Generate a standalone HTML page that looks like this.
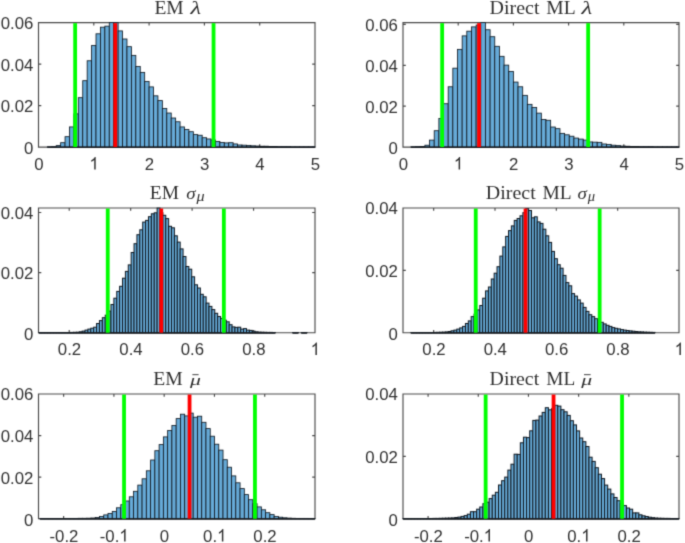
<!DOCTYPE html>
<html><head><meta charset="utf-8"><title>Histograms</title>
<style>html,body{margin:0;padding:0;background:#fff;}body{width:685px;height:543px;overflow:hidden;}svg{display:block;}</style>
</head><body>
<div style="will-change:transform;width:685px;height:543px">
<svg width="685" height="543" viewBox="0 0 685 543">
<defs><filter id="soft" x="0" y="0" width="685" height="543" filterUnits="userSpaceOnUse" color-interpolation-filters="sRGB"><feConvolveMatrix order="3" kernelMatrix="0.02250 0.10500 0.02250 0.10500 0.49000 0.10500 0.02250 0.10500 0.02250" divisor="1" edgeMode="duplicate" preserveAlpha="true"/></filter></defs>
<g filter="url(#soft)">
<rect x="-5" y="-5" width="695" height="553" fill="#fff"/>
<g>
<path d="M38.5 22.6H315V147.05H38.5ZM93.8 147.05v-2.8M93.8 22.6v2.8M149.1 147.05v-2.8M149.1 22.6v2.8M204.4 147.05v-2.8M204.4 22.6v2.8M259.7 147.05v-2.8M259.7 22.6v2.8M38.5 105.57h2.8M315 105.57h-2.8M38.5 64.08h2.8M315 64.08h-2.8" fill="none" stroke="#4a4a4a" stroke-width="1.15"/>
<g fill="#66aad7" stroke="#101820" stroke-width="0.82">
<rect x="47.35" y="146.84" width="4.42" height="0.21"/>
<rect x="51.77" y="146.64" width="4.42" height="0.41"/>
<rect x="56.2" y="145.6" width="4.42" height="1.45"/>
<rect x="60.62" y="142.69" width="4.42" height="4.36"/>
<rect x="65.04" y="136.68" width="4.42" height="10.37"/>
<rect x="69.47" y="126.93" width="4.42" height="20.12"/>
<rect x="73.89" y="113.86" width="4.42" height="33.19"/>
<rect x="78.32" y="97.68" width="4.42" height="49.37"/>
<rect x="82.74" y="80.68" width="4.42" height="66.37"/>
<rect x="87.16" y="60.76" width="4.42" height="86.29"/>
<rect x="91.59" y="45.42" width="4.42" height="101.63"/>
<rect x="96.01" y="33.8" width="4.42" height="113.25"/>
<rect x="100.44" y="27.16" width="4.42" height="119.89"/>
<rect x="104.86" y="26.13" width="4.42" height="120.92"/>
<rect x="109.28" y="22.6" width="4.42" height="124.45"/>
<rect x="113.71" y="22.6" width="4.42" height="124.45"/>
<rect x="118.13" y="30.9" width="4.42" height="116.15"/>
<rect x="122.56" y="38.99" width="4.42" height="108.06"/>
<rect x="126.98" y="46.66" width="4.42" height="100.39"/>
<rect x="131.4" y="55.37" width="4.42" height="91.68"/>
<rect x="135.83" y="66.57" width="4.42" height="80.48"/>
<rect x="140.25" y="72.38" width="4.42" height="74.67"/>
<rect x="144.68" y="81.51" width="4.42" height="65.54"/>
<rect x="149.1" y="86.9" width="4.42" height="60.15"/>
<rect x="153.52" y="95.82" width="4.42" height="51.23"/>
<rect x="157.95" y="100.59" width="4.42" height="46.46"/>
<rect x="162.37" y="108.47" width="4.42" height="38.58"/>
<rect x="166.8" y="113.03" width="4.42" height="34.02"/>
<rect x="171.22" y="118.01" width="4.42" height="29.04"/>
<rect x="175.64" y="121.75" width="4.42" height="25.3"/>
<rect x="180.07" y="126.93" width="4.42" height="20.12"/>
<rect x="184.49" y="129.42" width="4.42" height="17.63"/>
<rect x="188.92" y="131.7" width="4.42" height="15.35"/>
<rect x="193.34" y="134.61" width="4.42" height="12.45"/>
<rect x="197.76" y="135.23" width="4.42" height="11.82"/>
<rect x="202.19" y="137.72" width="4.42" height="9.33"/>
<rect x="206.61" y="138.96" width="4.42" height="8.09"/>
<rect x="211.04" y="140" width="4.42" height="7.05"/>
<rect x="215.46" y="141.45" width="4.42" height="5.6"/>
<rect x="219.88" y="142.49" width="4.42" height="4.56"/>
<rect x="224.31" y="142.9" width="4.42" height="4.15"/>
<rect x="228.73" y="142.69" width="4.42" height="4.36"/>
<rect x="233.16" y="143.94" width="4.42" height="3.11"/>
<rect x="237.58" y="144.98" width="4.42" height="2.07"/>
<rect x="242" y="145.18" width="4.42" height="1.87"/>
<rect x="246.43" y="145.39" width="4.42" height="1.66"/>
<rect x="250.85" y="145.81" width="4.42" height="1.24"/>
<rect x="255.28" y="146.01" width="4.42" height="1.04"/>
<rect x="259.7" y="146.22" width="4.42" height="0.83"/>
<rect x="264.12" y="146.22" width="4.42" height="0.83"/>
<rect x="268.55" y="146.43" width="4.42" height="0.62"/>
<rect x="272.97" y="146.43" width="4.42" height="0.62"/>
<rect x="277.4" y="146.64" width="4.42" height="0.41"/>
<rect x="281.82" y="146.64" width="4.42" height="0.41"/>
<rect x="286.24" y="146.64" width="4.42" height="0.41"/>
<rect x="290.67" y="146.84" width="4.42" height="0.21"/>
<rect x="295.09" y="146.84" width="4.42" height="0.21"/>
<rect x="299.52" y="146.84" width="4.42" height="0.21"/>
<rect x="303.94" y="146.84" width="4.42" height="0.21"/>
<rect x="308.36" y="146.84" width="4.42" height="0.21"/>
<rect x="312.79" y="146.84" width="2.21" height="0.21"/>
</g>
<path d="M47.35 147.25H315" stroke="#1a1f24" stroke-width="1.5" fill="none"/>
<rect x="73.25" y="23.15" width="3.8" height="123.9" fill="#00ff00"/>
<rect x="211.65" y="23.15" width="3.8" height="123.9" fill="#00ff00"/>
<rect x="113.35" y="23.15" width="3.8" height="123.9" fill="#ff0000"/>
<g font-family="'Liberation Sans', sans-serif" font-size="17.2" fill="#303030">
<text transform="translate(34.14 169.55) scale(0.975 1)">0</text>
<path transform="translate(89.44 169.55) scale(0.01677 -0.01720)" d="M373 0H285V560Q253 530 202 500T109 454V539Q185 575 242 626T322 725H373Z"/>
<text transform="translate(144.74 169.55) scale(0.975 1)">2</text>
<text transform="translate(200.04 169.55) scale(0.975 1)">3</text>
<text transform="translate(255.34 169.55) scale(0.975 1)">4</text>
<text transform="translate(310.64 169.55) scale(0.975 1)">5</text>
<text transform="translate(23.98 154.1) scale(0.975 1)">0</text>
<text transform="translate(0.67 112.02) scale(0.975 1)">0.02</text>
<text transform="translate(0.67 70.53) scale(0.975 1)">0.04</text>
<text transform="translate(0.67 29.05) scale(0.975 1)">0.06</text>
</g>
<g opacity="0.92"><text transform="translate(155.5 13.8) scale(1.0840 1)" x="-1.000" y="0" font-family="'Liberation Serif', serif" font-style="normal" font-size="18" fill="#1c1c1c">EM</text><text transform="translate(190.6 13.8) scale(1.3571 1)" x="-0.000" y="0" font-family="'Liberation Serif', serif" font-style="italic" font-size="18" fill="#1c1c1c">λ</text></g>
</g>
<g>
<path d="M403 22.6H679V147.05H403ZM458.2 147.05v-2.8M458.2 22.6v2.8M513.4 147.05v-2.8M513.4 22.6v2.8M568.6 147.05v-2.8M568.6 22.6v2.8M623.8 147.05v-2.8M623.8 22.6v2.8M403 106.18h2.8M679 106.18h-2.8M403 65.31h2.8M679 65.31h-2.8M403 24.44h2.8M679 24.44h-2.8" fill="none" stroke="#4a4a4a" stroke-width="1.15"/>
<g fill="#66aad7" stroke="#101820" stroke-width="0.82">
<rect x="410.93" y="146.85" width="4.66" height="0.2"/>
<rect x="415.59" y="146.64" width="4.66" height="0.41"/>
<rect x="420.24" y="146.44" width="4.66" height="0.61"/>
<rect x="424.9" y="145.21" width="4.66" height="1.84"/>
<rect x="429.56" y="140.1" width="4.66" height="6.95"/>
<rect x="434.21" y="130.7" width="4.66" height="16.35"/>
<rect x="438.87" y="118.44" width="4.66" height="28.61"/>
<rect x="443.53" y="103.73" width="4.66" height="43.32"/>
<rect x="448.19" y="86.77" width="4.66" height="60.28"/>
<rect x="452.84" y="68.17" width="4.66" height="78.88"/>
<rect x="457.5" y="49.37" width="4.66" height="97.68"/>
<rect x="462.16" y="35.88" width="4.66" height="111.17"/>
<rect x="466.81" y="31.18" width="4.66" height="115.87"/>
<rect x="471.47" y="26.89" width="4.66" height="120.16"/>
<rect x="476.13" y="25.05" width="4.66" height="122"/>
<rect x="480.78" y="22.6" width="4.66" height="124.45"/>
<rect x="485.44" y="29.75" width="4.66" height="117.3"/>
<rect x="490.1" y="36.7" width="4.66" height="110.35"/>
<rect x="494.75" y="46.3" width="4.66" height="100.75"/>
<rect x="499.41" y="56.32" width="4.66" height="90.73"/>
<rect x="504.07" y="65.11" width="4.66" height="81.94"/>
<rect x="508.73" y="71.44" width="4.66" height="75.61"/>
<rect x="513.38" y="82.07" width="4.66" height="64.98"/>
<rect x="518.04" y="86.77" width="4.66" height="60.28"/>
<rect x="522.7" y="95.35" width="4.66" height="51.7"/>
<rect x="527.35" y="104.34" width="4.66" height="42.71"/>
<rect x="532.01" y="107.41" width="4.66" height="39.64"/>
<rect x="536.67" y="113.13" width="4.66" height="33.92"/>
<rect x="541.32" y="119.46" width="4.66" height="27.59"/>
<rect x="545.98" y="120.28" width="4.66" height="26.77"/>
<rect x="550.64" y="127.02" width="4.66" height="20.03"/>
<rect x="555.3" y="128.66" width="4.66" height="18.39"/>
<rect x="559.95" y="133.36" width="4.66" height="13.69"/>
<rect x="564.61" y="134.79" width="4.66" height="12.26"/>
<rect x="569.27" y="136.22" width="4.66" height="10.83"/>
<rect x="573.92" y="138.06" width="4.66" height="8.99"/>
<rect x="578.58" y="139.08" width="4.66" height="7.97"/>
<rect x="583.24" y="140.1" width="4.66" height="6.95"/>
<rect x="587.89" y="141.94" width="4.66" height="5.11"/>
<rect x="592.55" y="142.15" width="4.66" height="4.9"/>
<rect x="597.21" y="142.35" width="4.66" height="4.7"/>
<rect x="601.87" y="143.98" width="4.66" height="3.07"/>
<rect x="606.52" y="144.39" width="4.66" height="2.66"/>
<rect x="611.18" y="145.21" width="4.66" height="1.84"/>
<rect x="615.84" y="145.62" width="4.66" height="1.43"/>
<rect x="620.49" y="146.03" width="4.66" height="1.02"/>
<rect x="625.15" y="146.23" width="4.66" height="0.82"/>
<rect x="629.81" y="146.44" width="4.66" height="0.61"/>
<rect x="634.46" y="146.44" width="4.66" height="0.61"/>
<rect x="639.12" y="146.64" width="4.66" height="0.41"/>
<rect x="643.78" y="146.64" width="4.66" height="0.41"/>
<rect x="648.44" y="146.64" width="4.66" height="0.41"/>
<rect x="653.09" y="146.85" width="4.66" height="0.2"/>
<rect x="657.75" y="146.85" width="4.66" height="0.2"/>
<rect x="662.41" y="146.85" width="4.66" height="0.2"/>
<rect x="667.06" y="146.85" width="4.66" height="0.2"/>
<rect x="671.72" y="146.85" width="4.66" height="0.2"/>
<rect x="676.38" y="146.85" width="2.62" height="0.2"/>
</g>
<path d="M410.93 147.25H679" stroke="#1a1f24" stroke-width="1.5" fill="none"/>
<rect x="440.25" y="23.15" width="3.8" height="123.9" fill="#00ff00"/>
<rect x="586.25" y="23.15" width="3.8" height="123.9" fill="#00ff00"/>
<rect x="477.15" y="23.15" width="3.8" height="123.9" fill="#ff0000"/>
<g font-family="'Liberation Sans', sans-serif" font-size="17.2" fill="#303030">
<text transform="translate(398.64 169.55) scale(0.975 1)">0</text>
<path transform="translate(453.84 169.55) scale(0.01677 -0.01720)" d="M373 0H285V560Q253 530 202 500T109 454V539Q185 575 242 626T322 725H373Z"/>
<text transform="translate(509.04 169.55) scale(0.975 1)">2</text>
<text transform="translate(564.24 169.55) scale(0.975 1)">3</text>
<text transform="translate(619.44 169.55) scale(0.975 1)">4</text>
<text transform="translate(674.64 169.55) scale(0.975 1)">5</text>
<text transform="translate(388.48 154.1) scale(0.975 1)">0</text>
<text transform="translate(365.17 112.63) scale(0.975 1)">0.02</text>
<text transform="translate(365.17 71.76) scale(0.975 1)">0.04</text>
<text transform="translate(365.17 30.89) scale(0.975 1)">0.06</text>
</g>
<g opacity="0.92"><text transform="translate(490.7 13.8) scale(1.1114 1)" x="-1.000" y="0" font-family="'Liberation Serif', serif" font-style="normal" font-size="18" fill="#1c1c1c">Direct</text><text transform="translate(547.4 13.8) scale(1.0880 1)" x="-1.000" y="0" font-family="'Liberation Serif', serif" font-style="normal" font-size="18" fill="#1c1c1c">ML</text><text transform="translate(581.6 13.8) scale(1.3714 1)" x="-0.000" y="0" font-family="'Liberation Serif', serif" font-style="italic" font-size="18" fill="#1c1c1c">λ</text></g>
</g>
<g>
<path d="M38.5 208H315V332.7H38.5ZM69.22 332.7v-2.8M69.22 208v2.8M130.67 332.7v-2.8M130.67 208v2.8M192.11 332.7v-2.8M192.11 208v2.8M253.56 332.7v-2.8M253.56 208v2.8M38.5 272.6h2.8M315 272.6h-2.8M38.5 212.51h2.8M315 212.51h-2.8" fill="none" stroke="#4a4a4a" stroke-width="1.15"/>
<g fill="#66aad7" stroke="#101820" stroke-width="1.0">
<rect x="56.21" y="332.55" width="2.88" height="0.15"/>
<rect x="59.09" y="332.55" width="2.88" height="0.15"/>
<rect x="61.97" y="332.5" width="2.88" height="0.2"/>
<rect x="64.86" y="332.5" width="2.88" height="0.2"/>
<rect x="67.74" y="332.5" width="2.88" height="0.2"/>
<rect x="70.62" y="332.4" width="2.88" height="0.3"/>
<rect x="73.51" y="332.3" width="2.88" height="0.4"/>
<rect x="76.39" y="332.2" width="2.88" height="0.5"/>
<rect x="79.27" y="331.8" width="2.88" height="0.9"/>
<rect x="82.16" y="331.1" width="2.88" height="1.6"/>
<rect x="85.04" y="330.1" width="2.88" height="2.6"/>
<rect x="87.92" y="329.1" width="2.88" height="3.6"/>
<rect x="90.8" y="328.2" width="2.88" height="4.5"/>
<rect x="93.69" y="327.2" width="2.88" height="5.5"/>
<rect x="96.57" y="323.5" width="2.88" height="9.2"/>
<rect x="99.45" y="320.6" width="2.88" height="12.1"/>
<rect x="102.34" y="317.7" width="2.88" height="15"/>
<rect x="105.22" y="315.2" width="2.88" height="17.5"/>
<rect x="108.1" y="311.1" width="2.88" height="21.6"/>
<rect x="110.99" y="304.5" width="2.88" height="28.2"/>
<rect x="113.87" y="298.2" width="2.88" height="34.5"/>
<rect x="116.75" y="291.4" width="2.88" height="41.3"/>
<rect x="119.63" y="286.3" width="2.88" height="46.4"/>
<rect x="122.52" y="278.2" width="2.88" height="54.5"/>
<rect x="125.4" y="271.4" width="2.88" height="61.3"/>
<rect x="128.28" y="264.9" width="2.88" height="67.8"/>
<rect x="131.17" y="252.5" width="2.88" height="80.2"/>
<rect x="134.05" y="243.7" width="2.88" height="89"/>
<rect x="136.93" y="234.7" width="2.88" height="98"/>
<rect x="139.81" y="229.8" width="2.88" height="102.9"/>
<rect x="142.7" y="222.1" width="2.88" height="110.6"/>
<rect x="145.58" y="220.4" width="2.88" height="112.3"/>
<rect x="148.46" y="216.7" width="2.88" height="116"/>
<rect x="151.35" y="213.8" width="2.88" height="118.9"/>
<rect x="154.23" y="212.8" width="2.88" height="119.9"/>
<rect x="157.11" y="208.1" width="2.88" height="124.6"/>
<rect x="160" y="212.7" width="2.88" height="120"/>
<rect x="162.88" y="215.3" width="2.88" height="117.4"/>
<rect x="165.76" y="218.6" width="2.88" height="114.1"/>
<rect x="168.65" y="226.3" width="2.88" height="106.4"/>
<rect x="171.53" y="227.8" width="2.88" height="104.9"/>
<rect x="174.41" y="235.8" width="2.88" height="96.9"/>
<rect x="177.29" y="242.1" width="2.88" height="90.6"/>
<rect x="180.18" y="248.9" width="2.88" height="83.8"/>
<rect x="183.06" y="256.5" width="2.88" height="76.2"/>
<rect x="185.94" y="266.5" width="2.88" height="66.2"/>
<rect x="188.83" y="269.2" width="2.88" height="63.5"/>
<rect x="191.71" y="276.8" width="2.88" height="55.9"/>
<rect x="194.59" y="284.8" width="2.88" height="47.9"/>
<rect x="197.48" y="288" width="2.88" height="44.7"/>
<rect x="200.36" y="294.3" width="2.88" height="38.4"/>
<rect x="203.24" y="296.8" width="2.88" height="35.9"/>
<rect x="206.12" y="303.1" width="2.88" height="29.6"/>
<rect x="209.01" y="306.4" width="2.88" height="26.3"/>
<rect x="211.89" y="309.6" width="2.88" height="23.1"/>
<rect x="214.77" y="313.3" width="2.88" height="19.4"/>
<rect x="217.66" y="316.5" width="2.88" height="16.2"/>
<rect x="220.54" y="318.4" width="2.88" height="14.3"/>
<rect x="223.42" y="320.2" width="2.88" height="12.5"/>
<rect x="226.31" y="321.8" width="2.88" height="10.9"/>
<rect x="229.19" y="324.7" width="2.88" height="8"/>
<rect x="232.07" y="326.9" width="2.88" height="5.8"/>
<rect x="234.95" y="327.4" width="2.88" height="5.3"/>
<rect x="237.84" y="327.2" width="2.88" height="5.5"/>
<rect x="240.72" y="329.1" width="2.88" height="3.6"/>
<rect x="243.6" y="328.6" width="2.88" height="4.1"/>
<rect x="246.49" y="330.1" width="2.88" height="2.6"/>
<rect x="249.37" y="330.4" width="2.88" height="2.3"/>
<rect x="252.25" y="331.2" width="2.88" height="1.5"/>
<rect x="255.14" y="331.8" width="2.88" height="0.9"/>
<rect x="258.02" y="332.1" width="2.88" height="0.6"/>
<rect x="260.9" y="332.2" width="2.88" height="0.5"/>
<rect x="263.78" y="332.3" width="2.88" height="0.4"/>
<rect x="266.67" y="332.4" width="2.88" height="0.3"/>
<rect x="269.55" y="332.4" width="2.88" height="0.3"/>
<rect x="272.43" y="332.5" width="2.88" height="0.2"/>
<rect x="38.91" y="332.58" width="2.88" height="0.12"/>
<rect x="41.79" y="332.58" width="2.88" height="0.12"/>
<rect x="44.68" y="332.58" width="2.88" height="0.12"/>
<rect x="47.56" y="332.58" width="2.88" height="0.12"/>
<rect x="50.44" y="332.58" width="2.88" height="0.12"/>
<rect x="53.33" y="332.58" width="2.88" height="0.12"/>
<rect x="292.61" y="332.58" width="2.88" height="0.12"/>
<rect x="295.5" y="332.58" width="2.88" height="0.12"/>
<rect x="301.26" y="332.58" width="2.88" height="0.12"/>
<rect x="304.15" y="332.58" width="2.88" height="0.12"/>
</g>
<path d="M38.91 332.9H275.32M292.61 332.9H298.38M301.26 332.9H307.03" stroke="#1a1f24" stroke-width="1.5" fill="none"/>
<rect x="105.85" y="208.55" width="3.8" height="124.15" fill="#00ff00"/>
<rect x="221.95" y="208.55" width="3.8" height="124.15" fill="#00ff00"/>
<rect x="159.35" y="208.55" width="3.8" height="124.15" fill="#ff0000"/>
<g font-family="'Liberation Sans', sans-serif" font-size="17.2" fill="#303030">
<text transform="translate(57.87 355) scale(0.975 1)">0.2</text>
<text transform="translate(119.31 355) scale(0.975 1)">0.4</text>
<text transform="translate(180.76 355) scale(0.975 1)">0.6</text>
<text transform="translate(242.2 355) scale(0.975 1)">0.8</text>
<path transform="translate(310.64 355) scale(0.01677 -0.01720)" d="M373 0H285V560Q253 530 202 500T109 454V539Q185 575 242 626T322 725H373Z"/>
<text transform="translate(23.98 339.75) scale(0.975 1)">0</text>
<text transform="translate(0.67 279.05) scale(0.975 1)">0.02</text>
<text transform="translate(0.67 218.96) scale(0.975 1)">0.04</text>
</g>
<g opacity="0.92"><text transform="translate(150.9 199.2) scale(1.0800 1)" x="-1.000" y="0" font-family="'Liberation Serif', serif" font-style="normal" font-size="18" fill="#1c1c1c">EM</text><text transform="translate(186.2 199.2) scale(1.1515 1)" x="-0.000" y="0" font-family="'Liberation Serif', serif" font-style="italic" font-size="16.5" fill="#1c1c1c">σ</text><text transform="translate(196.4 201.3) scale(1.1571 1)" x="-0.000" y="0" font-family="'Liberation Serif', serif" font-style="italic" font-size="14" fill="#1c1c1c">μ</text></g>
</g>
<g>
<path d="M403 208H679V332.7H403ZM433.67 332.7v-2.8M433.67 208v2.8M495 332.7v-2.8M495 208v2.8M556.33 332.7v-2.8M556.33 208v2.8M617.67 332.7v-2.8M617.67 208v2.8M403 270.35h2.8M679 270.35h-2.8" fill="none" stroke="#4a4a4a" stroke-width="1.15"/>
<g fill="#66aad7" stroke="#101820" stroke-width="1.0">
<rect x="419.49" y="332.55" width="2.87" height="0.15"/>
<rect x="422.36" y="332.55" width="2.87" height="0.15"/>
<rect x="425.23" y="332.5" width="2.87" height="0.2"/>
<rect x="428.1" y="332.5" width="2.87" height="0.2"/>
<rect x="430.98" y="332.5" width="2.87" height="0.2"/>
<rect x="433.85" y="332.4" width="2.87" height="0.3"/>
<rect x="436.72" y="332.3" width="2.87" height="0.4"/>
<rect x="439.59" y="332.2" width="2.87" height="0.5"/>
<rect x="442.46" y="332.1" width="2.87" height="0.6"/>
<rect x="445.34" y="331.9" width="2.87" height="0.8"/>
<rect x="448.21" y="331.5" width="2.87" height="1.2"/>
<rect x="451.08" y="330.8" width="2.87" height="1.9"/>
<rect x="453.95" y="330.1" width="2.87" height="2.6"/>
<rect x="456.82" y="329.1" width="2.87" height="3.6"/>
<rect x="459.7" y="327.9" width="2.87" height="4.8"/>
<rect x="462.57" y="326.4" width="2.87" height="6.3"/>
<rect x="465.44" y="323.5" width="2.87" height="9.2"/>
<rect x="468.31" y="320.9" width="2.87" height="11.8"/>
<rect x="471.18" y="316.6" width="2.87" height="16.1"/>
<rect x="474.06" y="314.2" width="2.87" height="18.5"/>
<rect x="476.93" y="309.9" width="2.87" height="22.8"/>
<rect x="479.8" y="305.5" width="2.87" height="27.2"/>
<rect x="482.67" y="298.2" width="2.87" height="34.5"/>
<rect x="485.54" y="290.9" width="2.87" height="41.8"/>
<rect x="488.42" y="287" width="2.87" height="45.7"/>
<rect x="491.29" y="279" width="2.87" height="53.7"/>
<rect x="494.16" y="273.2" width="2.87" height="59.5"/>
<rect x="497.03" y="266.7" width="2.87" height="66"/>
<rect x="499.9" y="256.1" width="2.87" height="76.6"/>
<rect x="502.78" y="246.9" width="2.87" height="85.8"/>
<rect x="505.65" y="236.4" width="2.87" height="96.3"/>
<rect x="508.52" y="230.6" width="2.87" height="102.1"/>
<rect x="511.39" y="225.9" width="2.87" height="106.8"/>
<rect x="514.26" y="220.4" width="2.87" height="112.3"/>
<rect x="517.14" y="218.5" width="2.87" height="114.2"/>
<rect x="520.01" y="215.8" width="2.87" height="116.9"/>
<rect x="522.88" y="212.7" width="2.87" height="120"/>
<rect x="525.75" y="208.7" width="2.87" height="124"/>
<rect x="528.62" y="210.5" width="2.87" height="122.2"/>
<rect x="531.5" y="217.8" width="2.87" height="114.9"/>
<rect x="534.37" y="216.8" width="2.87" height="115.9"/>
<rect x="537.24" y="221.9" width="2.87" height="110.8"/>
<rect x="540.11" y="223.4" width="2.87" height="109.3"/>
<rect x="542.98" y="229.2" width="2.87" height="103.5"/>
<rect x="545.86" y="235.8" width="2.87" height="96.9"/>
<rect x="548.73" y="242.4" width="2.87" height="90.3"/>
<rect x="551.6" y="251.4" width="2.87" height="81.3"/>
<rect x="554.47" y="258.7" width="2.87" height="74"/>
<rect x="557.34" y="264.7" width="2.87" height="68"/>
<rect x="560.22" y="268.2" width="2.87" height="64.5"/>
<rect x="563.09" y="275.4" width="2.87" height="57.3"/>
<rect x="565.96" y="282.6" width="2.87" height="50.1"/>
<rect x="568.83" y="285.8" width="2.87" height="46.9"/>
<rect x="571.7" y="293.6" width="2.87" height="39.1"/>
<rect x="574.58" y="296.1" width="2.87" height="36.6"/>
<rect x="577.45" y="299.9" width="2.87" height="32.8"/>
<rect x="580.32" y="303.1" width="2.87" height="29.6"/>
<rect x="583.19" y="307.4" width="2.87" height="25.3"/>
<rect x="586.06" y="311.4" width="2.87" height="21.3"/>
<rect x="588.94" y="314.7" width="2.87" height="18"/>
<rect x="591.81" y="316.6" width="2.87" height="16.1"/>
<rect x="594.68" y="318.7" width="2.87" height="14"/>
<rect x="597.55" y="320.2" width="2.87" height="12.5"/>
<rect x="600.42" y="322.3" width="2.87" height="10.4"/>
<rect x="603.3" y="323.9" width="2.87" height="8.8"/>
<rect x="606.17" y="325.3" width="2.87" height="7.4"/>
<rect x="609.04" y="326.4" width="2.87" height="6.3"/>
<rect x="611.91" y="327.6" width="2.87" height="5.1"/>
<rect x="614.78" y="328.3" width="2.87" height="4.4"/>
<rect x="617.66" y="328.9" width="2.87" height="3.8"/>
<rect x="620.53" y="329.6" width="2.87" height="3.1"/>
<rect x="623.4" y="330.1" width="2.87" height="2.6"/>
<rect x="626.27" y="330.5" width="2.87" height="2.2"/>
<rect x="629.14" y="330.9" width="2.87" height="1.8"/>
<rect x="632.02" y="331.2" width="2.87" height="1.5"/>
<rect x="634.89" y="331.5" width="2.87" height="1.2"/>
<rect x="637.76" y="331.8" width="2.87" height="0.9"/>
<rect x="640.63" y="331.9" width="2.87" height="0.8"/>
<rect x="643.5" y="332.1" width="2.87" height="0.6"/>
<rect x="646.38" y="332.2" width="2.87" height="0.5"/>
<rect x="649.25" y="332.3" width="2.87" height="0.4"/>
<rect x="652.12" y="332.4" width="2.87" height="0.3"/>
<rect x="410.87" y="332.58" width="2.87" height="0.12"/>
<rect x="413.74" y="332.58" width="2.87" height="0.12"/>
<rect x="416.62" y="332.58" width="2.87" height="0.12"/>
</g>
<path d="M410.87 332.9H654.99" stroke="#1a1f24" stroke-width="1.5" fill="none"/>
<rect x="473.85" y="208.55" width="3.8" height="124.15" fill="#00ff00"/>
<rect x="597.75" y="208.55" width="3.8" height="124.15" fill="#00ff00"/>
<rect x="523.65" y="208.55" width="3.8" height="124.15" fill="#ff0000"/>
<g font-family="'Liberation Sans', sans-serif" font-size="17.2" fill="#303030">
<text transform="translate(422.31 355) scale(0.975 1)">0.2</text>
<text transform="translate(483.64 355) scale(0.975 1)">0.4</text>
<text transform="translate(544.98 355) scale(0.975 1)">0.6</text>
<text transform="translate(606.31 355) scale(0.975 1)">0.8</text>
<path transform="translate(674.64 355) scale(0.01677 -0.01720)" d="M373 0H285V560Q253 530 202 500T109 454V539Q185 575 242 626T322 725H373Z"/>
<text transform="translate(388.48 339.75) scale(0.975 1)">0</text>
<text transform="translate(365.17 276.8) scale(0.975 1)">0.02</text>
<text transform="translate(365.17 214.45) scale(0.975 1)">0.04</text>
</g>
<g opacity="0.92"><text transform="translate(486.9 199.2) scale(1.1114 1)" x="-1.000" y="0" font-family="'Liberation Serif', serif" font-style="normal" font-size="18" fill="#1c1c1c">Direct</text><text transform="translate(543.6 199.2) scale(1.0800 1)" x="-1.000" y="0" font-family="'Liberation Serif', serif" font-style="normal" font-size="18" fill="#1c1c1c">ML</text><text transform="translate(577.4 199.2) scale(1.1515 1)" x="-0.000" y="0" font-family="'Liberation Serif', serif" font-style="italic" font-size="16.5" fill="#1c1c1c">σ</text><text transform="translate(587.7 201.3) scale(1.0429 1)" x="-0.000" y="0" font-family="'Liberation Serif', serif" font-style="italic" font-size="14" fill="#1c1c1c">μ</text></g>
</g>
<g>
<path d="M38.5 394H315V518.7H38.5ZM63.64 518.7v-2.8M63.64 394v2.8M113.91 518.7v-2.8M113.91 394v2.8M164.18 518.7v-2.8M164.18 394v2.8M214.45 518.7v-2.8M214.45 394v2.8M264.73 518.7v-2.8M264.73 394v2.8M38.5 477.13h2.8M315 477.13h-2.8M38.5 435.57h2.8M315 435.57h-2.8" fill="none" stroke="#4a4a4a" stroke-width="1.15"/>
<g fill="#66aad7" stroke="#101820" stroke-width="0.82">
<rect x="56.88" y="518.5" width="4.26" height="0.2"/>
<rect x="61.14" y="518.5" width="4.26" height="0.2"/>
<rect x="65.4" y="518.4" width="4.26" height="0.3"/>
<rect x="69.66" y="518.4" width="4.26" height="0.3"/>
<rect x="73.92" y="518.4" width="4.26" height="0.3"/>
<rect x="78.18" y="518.3" width="4.26" height="0.4"/>
<rect x="82.44" y="518.3" width="4.26" height="0.4"/>
<rect x="86.7" y="518.2" width="4.26" height="0.5"/>
<rect x="90.96" y="518" width="4.26" height="0.7"/>
<rect x="95.22" y="517.5" width="4.26" height="1.2"/>
<rect x="99.48" y="516.5" width="4.26" height="2.2"/>
<rect x="103.74" y="514.9" width="4.26" height="3.8"/>
<rect x="108" y="513.4" width="4.26" height="5.3"/>
<rect x="112.26" y="511.4" width="4.26" height="7.3"/>
<rect x="116.52" y="507.8" width="4.26" height="10.9"/>
<rect x="120.78" y="504.7" width="4.26" height="14"/>
<rect x="125.04" y="501" width="4.26" height="17.7"/>
<rect x="129.3" y="496.8" width="4.26" height="21.9"/>
<rect x="133.56" y="491.3" width="4.26" height="27.4"/>
<rect x="137.82" y="485.1" width="4.26" height="33.6"/>
<rect x="142.08" y="478.8" width="4.26" height="39.9"/>
<rect x="146.34" y="470.8" width="4.26" height="47.9"/>
<rect x="150.6" y="460" width="4.26" height="58.7"/>
<rect x="154.86" y="450.7" width="4.26" height="68"/>
<rect x="159.12" y="444.6" width="4.26" height="74.1"/>
<rect x="163.38" y="436.9" width="4.26" height="81.8"/>
<rect x="167.64" y="430.5" width="4.26" height="88.2"/>
<rect x="171.9" y="425.5" width="4.26" height="93.2"/>
<rect x="176.16" y="418.6" width="4.26" height="100.1"/>
<rect x="180.42" y="414.2" width="4.26" height="104.5"/>
<rect x="184.68" y="415.9" width="4.26" height="102.8"/>
<rect x="188.94" y="413.1" width="4.26" height="105.6"/>
<rect x="193.2" y="417.2" width="4.26" height="101.5"/>
<rect x="197.46" y="416.2" width="4.26" height="102.5"/>
<rect x="201.72" y="422.3" width="4.26" height="96.4"/>
<rect x="205.98" y="428.6" width="4.26" height="90.1"/>
<rect x="210.24" y="436.2" width="4.26" height="82.5"/>
<rect x="214.5" y="444.2" width="4.26" height="74.5"/>
<rect x="218.76" y="450.1" width="4.26" height="68.6"/>
<rect x="223.02" y="459.7" width="4.26" height="59"/>
<rect x="227.28" y="467.2" width="4.26" height="51.5"/>
<rect x="231.54" y="475.9" width="4.26" height="42.8"/>
<rect x="235.8" y="482.8" width="4.26" height="35.9"/>
<rect x="240.06" y="488.6" width="4.26" height="30.1"/>
<rect x="244.32" y="494.6" width="4.26" height="24.1"/>
<rect x="248.58" y="499.7" width="4.26" height="19"/>
<rect x="252.84" y="503.7" width="4.26" height="15"/>
<rect x="257.1" y="506.9" width="4.26" height="11.8"/>
<rect x="261.36" y="509.8" width="4.26" height="8.9"/>
<rect x="265.62" y="512.7" width="4.26" height="6"/>
<rect x="269.88" y="514.6" width="4.26" height="4.1"/>
<rect x="274.14" y="516.4" width="4.26" height="2.3"/>
<rect x="278.4" y="517.2" width="4.26" height="1.5"/>
<rect x="282.66" y="517.8" width="4.26" height="0.9"/>
<rect x="286.92" y="518.1" width="4.26" height="0.6"/>
<rect x="291.18" y="518.3" width="4.26" height="0.4"/>
<rect x="295.44" y="518.4" width="4.26" height="0.3"/>
<rect x="299.7" y="518.4" width="4.26" height="0.3"/>
<rect x="303.96" y="518.4" width="4.26" height="0.3"/>
<rect x="308.22" y="518.5" width="4.26" height="0.2"/>
<rect x="312.48" y="518.5" width="2.52" height="0.2"/>
<rect x="39.84" y="518.55" width="4.26" height="0.15"/>
<rect x="44.1" y="518.55" width="4.26" height="0.15"/>
<rect x="48.36" y="518.55" width="4.26" height="0.15"/>
<rect x="52.62" y="518.55" width="4.26" height="0.15"/>
</g>
<path d="M39.84 518.9H315" stroke="#1a1f24" stroke-width="1.5" fill="none"/>
<rect x="122.15" y="394.55" width="3.8" height="124.15" fill="#00ff00"/>
<rect x="253.05" y="394.55" width="3.8" height="124.15" fill="#00ff00"/>
<rect x="187.65" y="394.55" width="3.8" height="124.15" fill="#ff0000"/>
<g font-family="'Liberation Sans', sans-serif" font-size="17.2" fill="#303030">
<text transform="translate(49.49 541.5) scale(0.975 1)">-0.2</text>
<text transform="translate(99.76 541.5) scale(0.975 1)">-0.</text><path transform="translate(119.33 541.5) scale(0.01677 -0.01720)" d="M373 0H285V560Q253 530 202 500T109 454V539Q185 575 242 626T322 725H373Z"/>
<text transform="translate(159.82 541.5) scale(0.975 1)">0</text>
<text transform="translate(203.1 541.5) scale(0.975 1)">0.</text><path transform="translate(217.09 541.5) scale(0.01677 -0.01720)" d="M373 0H285V560Q253 530 202 500T109 454V539Q185 575 242 626T322 725H373Z"/>
<text transform="translate(253.37 541.5) scale(0.975 1)">0.2</text>
<text transform="translate(23.98 525.75) scale(0.975 1)">0</text>
<text transform="translate(0.67 483.58) scale(0.975 1)">0.02</text>
<text transform="translate(0.67 442.02) scale(0.975 1)">0.04</text>
<text transform="translate(0.67 400.45) scale(0.975 1)">0.06</text>
</g>
<g opacity="0.92"><text transform="translate(154.3 385) scale(1.0920 1)" x="-1.000" y="0" font-family="'Liberation Serif', serif" font-style="normal" font-size="18" fill="#1c1c1c">EM</text><text transform="translate(189.9 385) scale(1.4065 1)" x="-0.000" y="0" font-family="'Liberation Serif', serif" font-style="italic" font-size="15.5" fill="#1c1c1c">μ</text><rect x="192.4" y="374.25" width="6.2" height="0.9" fill="#1c1c1c"/></g>
</g>
<g>
<path d="M403 394H679V518.7H403ZM428.09 518.7v-2.8M428.09 394v2.8M478.27 518.7v-2.8M478.27 394v2.8M528.45 518.7v-2.8M528.45 394v2.8M578.64 518.7v-2.8M578.64 394v2.8M628.82 518.7v-2.8M628.82 394v2.8M403 456.35h2.8M679 456.35h-2.8" fill="none" stroke="#4a4a4a" stroke-width="1.15"/>
<g fill="#66aad7" stroke="#101820" stroke-width="1.0">
<rect x="420.5" y="518.55" width="3.12" height="0.15"/>
<rect x="423.62" y="518.5" width="3.12" height="0.2"/>
<rect x="426.74" y="518.5" width="3.12" height="0.2"/>
<rect x="429.86" y="518.5" width="3.12" height="0.2"/>
<rect x="432.98" y="518.4" width="3.12" height="0.3"/>
<rect x="436.1" y="518.4" width="3.12" height="0.3"/>
<rect x="439.22" y="518.3" width="3.12" height="0.4"/>
<rect x="442.34" y="518.2" width="3.12" height="0.5"/>
<rect x="445.46" y="518.1" width="3.12" height="0.6"/>
<rect x="448.58" y="518" width="3.12" height="0.7"/>
<rect x="451.7" y="517.9" width="3.12" height="0.8"/>
<rect x="454.82" y="517.5" width="3.12" height="1.2"/>
<rect x="457.94" y="517.1" width="3.12" height="1.6"/>
<rect x="461.06" y="516.4" width="3.12" height="2.3"/>
<rect x="464.18" y="515.6" width="3.12" height="3.1"/>
<rect x="467.3" y="514.2" width="3.12" height="4.5"/>
<rect x="470.42" y="511.7" width="3.12" height="7"/>
<rect x="473.54" y="511.7" width="3.12" height="7"/>
<rect x="476.66" y="509.2" width="3.12" height="9.5"/>
<rect x="479.78" y="507" width="3.12" height="11.7"/>
<rect x="482.9" y="503.7" width="3.12" height="15"/>
<rect x="486.02" y="502.2" width="3.12" height="16.5"/>
<rect x="489.14" y="498.6" width="3.12" height="20.1"/>
<rect x="492.26" y="495.2" width="3.12" height="23.5"/>
<rect x="495.38" y="492.3" width="3.12" height="26.4"/>
<rect x="498.5" y="485" width="3.12" height="33.7"/>
<rect x="501.62" y="480.7" width="3.12" height="38"/>
<rect x="504.74" y="477.1" width="3.12" height="41.6"/>
<rect x="507.86" y="470.1" width="3.12" height="48.6"/>
<rect x="510.98" y="464.2" width="3.12" height="54.5"/>
<rect x="514.1" y="454.2" width="3.12" height="64.5"/>
<rect x="517.22" y="454.4" width="3.12" height="64.3"/>
<rect x="520.34" y="442.8" width="3.12" height="75.9"/>
<rect x="523.46" y="437.2" width="3.12" height="81.5"/>
<rect x="526.58" y="437.6" width="3.12" height="81.1"/>
<rect x="529.7" y="430.8" width="3.12" height="87.9"/>
<rect x="532.82" y="420.4" width="3.12" height="98.3"/>
<rect x="535.94" y="420.1" width="3.12" height="98.6"/>
<rect x="539.06" y="416" width="3.12" height="102.7"/>
<rect x="542.18" y="412.4" width="3.12" height="106.3"/>
<rect x="545.3" y="407.7" width="3.12" height="111"/>
<rect x="548.42" y="409.8" width="3.12" height="108.9"/>
<rect x="551.54" y="408.7" width="3.12" height="110"/>
<rect x="554.66" y="405.3" width="3.12" height="113.4"/>
<rect x="557.78" y="406.1" width="3.12" height="112.6"/>
<rect x="560.9" y="409.7" width="3.12" height="109"/>
<rect x="564.02" y="411.8" width="3.12" height="106.9"/>
<rect x="567.14" y="415.4" width="3.12" height="103.3"/>
<rect x="570.26" y="420.7" width="3.12" height="98"/>
<rect x="573.38" y="424.9" width="3.12" height="93.8"/>
<rect x="576.5" y="430.9" width="3.12" height="87.8"/>
<rect x="579.62" y="438" width="3.12" height="80.7"/>
<rect x="582.74" y="441.7" width="3.12" height="77"/>
<rect x="585.86" y="446.5" width="3.12" height="72.2"/>
<rect x="588.98" y="457.2" width="3.12" height="61.5"/>
<rect x="592.1" y="461.4" width="3.12" height="57.3"/>
<rect x="595.22" y="467.7" width="3.12" height="51"/>
<rect x="598.34" y="474.2" width="3.12" height="44.5"/>
<rect x="601.46" y="478.6" width="3.12" height="40.1"/>
<rect x="604.58" y="485.1" width="3.12" height="33.6"/>
<rect x="607.7" y="489.1" width="3.12" height="29.6"/>
<rect x="610.82" y="493.9" width="3.12" height="24.8"/>
<rect x="613.94" y="497.5" width="3.12" height="21.2"/>
<rect x="617.06" y="500.7" width="3.12" height="18"/>
<rect x="620.18" y="503.2" width="3.12" height="15.5"/>
<rect x="623.3" y="505.6" width="3.12" height="13.1"/>
<rect x="626.42" y="508" width="3.12" height="10.7"/>
<rect x="629.54" y="509.2" width="3.12" height="9.5"/>
<rect x="632.66" y="512.9" width="3.12" height="5.8"/>
<rect x="635.78" y="512.9" width="3.12" height="5.8"/>
<rect x="638.9" y="514.8" width="3.12" height="3.9"/>
<rect x="642.02" y="515.8" width="3.12" height="2.9"/>
<rect x="645.14" y="516.5" width="3.12" height="2.2"/>
<rect x="648.26" y="517.2" width="3.12" height="1.5"/>
<rect x="651.38" y="517.7" width="3.12" height="1"/>
<rect x="654.5" y="518" width="3.12" height="0.7"/>
<rect x="657.62" y="518.2" width="3.12" height="0.5"/>
<rect x="660.74" y="518.3" width="3.12" height="0.4"/>
<rect x="663.86" y="518.4" width="3.12" height="0.3"/>
<rect x="666.98" y="518.4" width="3.12" height="0.3"/>
<rect x="670.1" y="518.5" width="3.12" height="0.2"/>
<rect x="673.22" y="518.5" width="3.12" height="0.2"/>
<rect x="403" y="518.58" width="1.9" height="0.12"/>
<rect x="404.9" y="518.58" width="3.12" height="0.12"/>
<rect x="408.02" y="518.58" width="3.12" height="0.12"/>
<rect x="411.14" y="518.58" width="3.12" height="0.12"/>
<rect x="414.26" y="518.58" width="3.12" height="0.12"/>
<rect x="417.38" y="518.58" width="3.12" height="0.12"/>
<rect x="676.34" y="518.55" width="2.66" height="0.15"/>
</g>
<path d="M403 518.9H679" stroke="#1a1f24" stroke-width="1.5" fill="none"/>
<rect x="483.75" y="394.55" width="3.8" height="124.15" fill="#00ff00"/>
<rect x="620.15" y="394.55" width="3.8" height="124.15" fill="#00ff00"/>
<rect x="551.65" y="394.55" width="3.8" height="124.15" fill="#ff0000"/>
<g font-family="'Liberation Sans', sans-serif" font-size="17.2" fill="#303030">
<text transform="translate(413.94 541.5) scale(0.975 1)">-0.2</text>
<text transform="translate(464.13 541.5) scale(0.975 1)">-0.</text><path transform="translate(483.7 541.5) scale(0.01677 -0.01720)" d="M373 0H285V560Q253 530 202 500T109 454V539Q185 575 242 626T322 725H373Z"/>
<text transform="translate(524.09 541.5) scale(0.975 1)">0</text>
<text transform="translate(567.28 541.5) scale(0.975 1)">0.</text><path transform="translate(581.27 541.5) scale(0.01677 -0.01720)" d="M373 0H285V560Q253 530 202 500T109 454V539Q185 575 242 626T322 725H373Z"/>
<text transform="translate(617.46 541.5) scale(0.975 1)">0.2</text>
<text transform="translate(388.48 525.75) scale(0.975 1)">0</text>
<text transform="translate(365.17 462.8) scale(0.975 1)">0.02</text>
<text transform="translate(365.17 400.45) scale(0.975 1)">0.04</text>
</g>
<g opacity="0.92"><text transform="translate(490.7 385) scale(1.1023 1)" x="-1.000" y="0" font-family="'Liberation Serif', serif" font-style="normal" font-size="18" fill="#1c1c1c">Direct</text><text transform="translate(547.4 385) scale(1.0720 1)" x="-1.000" y="0" font-family="'Liberation Serif', serif" font-style="normal" font-size="18" fill="#1c1c1c">ML</text><text transform="translate(581.2 385) scale(1.4065 1)" x="-0.000" y="0" font-family="'Liberation Serif', serif" font-style="italic" font-size="15.5" fill="#1c1c1c">μ</text><rect x="584" y="374.25" width="6.6" height="0.9" fill="#1c1c1c"/></g>
</g>
</g>
</svg>
</div>
</body></html>
